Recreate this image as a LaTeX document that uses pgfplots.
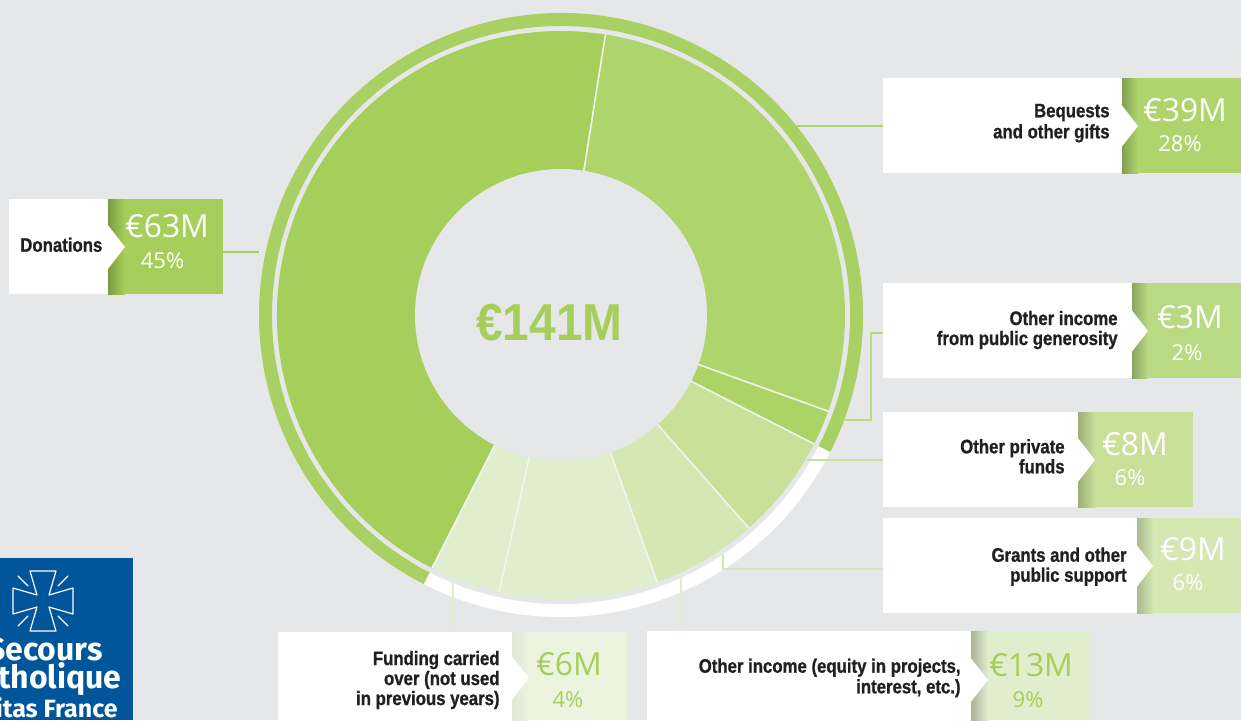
\documentclass[border=0pt]{standalone}
\usepackage{pgfplots}
\pgfplotsset{compat=1.18}
\usepackage{pgfplotstable}
\usepackage{fontspec}
\setmainfont{Liberation Sans}
\newfontfamily\labfont[FakeStretch=0.86, FakeBold=0.9]{Liberation Sans}
\newfontfamily\bigfont[FakeStretch=0.92]{Liberation Sans}
\newfontfamily\numfont{Open Sans}
\newfontfamily\logofont{Fira Sans}

\definecolor{bg}{HTML}{E6E7E8}
\definecolor{cDon}{HTML}{A5CF5A}
\definecolor{cBeq}{HTML}{AED46B}
\definecolor{cGen}{HTML}{ABD366}
\definecolor{cPriv}{HTML}{C8E098}
\definecolor{cGrant}{HTML}{D5E7B3}
\definecolor{cOther}{HTML}{E0EECD}
\definecolor{cFund}{HTML}{E0EECD}
\definecolor{ringc}{HTML}{A8D062}
\definecolor{sepc}{HTML}{F2F4EE}
\definecolor{bGen}{HTML}{B9DA82}
\definecolor{bFund}{HTML}{ECF4E0}
\definecolor{labc}{HTML}{231F20}
\definecolor{logoblue}{HTML}{00559B}

% slices, clockwise from the left end of the donations slice
\pgfplotstableread{
name amount pct fillc
Donations 63 45 cDon
Bequests 39 28 cBeq
OtherGenerosity 3 2 cGen
OtherPrivate 8 6 cPriv
Grants 9 6 cGrant
OtherIncome 13 9 cOther
Carried 6 4 cFund
}\slices

% x0 x1 x2 y0 y1 colour apex-x mid-y shadow
\newcommand{\callbox}[9]{%
  \fill[white] (axis cs:#1,#4) rectangle (axis cs:#2,#5);
  \fill[#6] (axis cs:#2,#4) rectangle (axis cs:#3,#5);
  \shade[left color=#9, right color=#6] (axis cs:#2,#4) rectangle (axis cs:#7,#5);
  \fill[white] (axis cs:#7,#8) -- ++(-8.6pt,11pt) -- ++(0,-22pt) -- cycle;
}
\newcommand{\lab}[3]{\node[anchor=base east, inner sep=0pt, text=labc,
  font=\labfont\bfseries\fontsize{9.75}{10}\selectfont] at (axis cs:#1,#2) {#3};}
\newcommand{\val}[4]{\node[anchor=base, inner sep=0pt, text=#4,
  font=\numfont\fontsize{15.9}{16}\selectfont] at (axis cs:#1,#2) {#3};}
\newcommand{\pct}[4]{\node[anchor=base, inner sep=0pt, text=#4,
  font=\numfont\fontsize{11}{11}\selectfont] at (axis cs:#1,#2) {#3};}

\begin{document}
\begin{tikzpicture}
\begin{axis}[
  scale only axis,
  width=620.5pt, height=360pt,
  xmin=0, xmax=1241, ymin=0, ymax=720,
  y dir=reverse,
  hide axis,
  clip=false,
]
\coordinate (SW) at (axis cs:0,720);
\coordinate (NE) at (axis cs:1241,0);
\fill[bg] (axis cs:0,0) rectangle (axis cs:1241,720);

% donut slices
\def\angA{243}
\def\angStart{243}
\pgfplotsforeachungrouped \i in {0,...,6}{%
  \pgfplotstablegetelem{\i}{pct}\of\slices \let\slpct\pgfplotsretval
  \pgfplotstablegetelem{\i}{fillc}\of\slices \let\slcol\pgfplotsretval
  \pgfmathsetmacro\angB{\angA-3.6*\slpct}
  \edef\tmp{\noexpand\fill[\slcol] (axis cs:561,315) -- ++(\angA:142pt)
    arc[start angle=\angA, end angle=\angB, radius=142pt] -- cycle;}
  \tmp
  \ifnum\i=2 \let\angRing\angB \fi
  \let\angA\angB
}
\def\angA{243}
\pgfplotsforeachungrouped \i in {0,...,6}{%
  \pgfplotstablegetelem{\i}{pct}\of\slices \let\slpct\pgfplotsretval
  \pgfmathsetmacro\angB{\angA-3.6*\slpct}
  \edef\tmp{\noexpand\draw[sepc, line width=0.8pt] (axis cs:561,315) -- ++(\angB:142pt);}
  \tmp
  \let\angA\angB
}
\fill[bg] (axis cs:561,315) circle[radius=73pt];

% outer ring: public generosity in green, the rest in white
\edef\tmp{\noexpand\draw[ringc, line width=6.5pt] (axis cs:561,315) ++(\angRing:147.75pt)
  arc[start angle=\angRing, end angle=\angStart, radius=147.75pt];}
\tmp
\edef\tmp{\noexpand\draw[white, line width=6.5pt] (axis cs:561,315) ++(\angStart-360:147.75pt)
  arc[start angle=\angStart-360, end angle=\angRing, radius=147.75pt];}
\tmp

% connectors
\draw[cDon, line width=0.75pt] (axis cs:223,252) -- (axis cs:259,252);
\draw[cBeq, line width=0.75pt] (axis cs:797,126) -- (axis cs:883,126);
\draw[bGen, line width=0.75pt] (axis cs:843,420) -- (axis cs:871,420) -- (axis cs:871,333) -- (axis cs:883,333);
\draw[cPriv, line width=0.75pt] (axis cs:807,460) -- (axis cs:883,460);
\draw[cGrant, line width=0.75pt] (axis cs:723,554) -- (axis cs:723,569) -- (axis cs:883,569);
\draw[cFund, line width=0.75pt] (axis cs:453,580) -- (axis cs:453,632);
\draw[cOther, line width=0.75pt] (axis cs:681,578) -- (axis cs:681,631);

% callout boxes
\callbox{9}{108}{223}{199}{294}{cDon}{125}{247}{cDon!75!black}
\callbox{883}{1122}{1241}{78}{173}{cBeq}{1138}{126}{cBeq!75!black}
\callbox{883}{1132}{1241}{283}{378}{bGen}{1148}{331}{bGen!75!black}
\callbox{883}{1078}{1193}{412}{507}{cPriv}{1095}{460}{cPriv!78!black}
\callbox{883}{1137}{1241}{518}{613}{cGrant}{1153}{566}{cGrant!80!black}
\callbox{278}{512}{627}{632}{720}{bFund}{529}{678}{bFund!95!black}
\callbox{647}{971}{1090}{631}{720}{cOther}{988}{680}{cOther!75!black}

% texts
\node[anchor=base, inner sep=0pt, text=cDon, font=\bigfont\bfseries\fontsize{26}{26}\selectfont]
  at (axis cs:549.5,340.7) {€141M};

\lab{102.7}{251.7}{Donations}
\val{167}{237.7}{€63M}{white}
\pct{162.5}{268.3}{45\%}{white}

\lab{1110}{117.3}{Bequests}
\lab{1110}{138.3}{and other gifts}
\val{1185}{121.5}{€39M}{white}
\pct{1180}{151.7}{28\%}{white}

\lab{1118}{325}{Other income}
\lab{1118}{345}{from public generosity}
\val{1190}{328.3}{€3M}{white}
\pct{1187}{360}{2\%}{white}

\lab{1065}{453.3}{Other private}
\lab{1065}{473.3}{funds}
\val{1135}{455}{€8M}{white}
\pct{1130}{485}{6\%}{white}

\lab{1127}{561.7}{Grants and other}
\lab{1127}{581.7}{public support}
\val{1193}{560}{€9M}{white}
\pct{1188}{590}{6\%}{white}

\lab{500}{665}{Funding carried}
\lab{500}{685}{over (not used}
\lab{500}{705}{in previous years)}
\val{569}{675}{€6M}{cDon}
\pct{568}{707}{4\%}{cDon}

\lab{961}{672.7}{Other income (equity in projects,}
\lab{961}{693.3}{interest, etc.)}
\val{1031}{676}{€13M}{cDon}
\pct{1028}{707}{9\%}{cDon}

% logo
\fill[logoblue] (axis cs:0,558) rectangle (axis cs:133,720);
\draw[white, line width=0.6pt, line join=round]
  (axis cs:49,595) -- (axis cs:56,571) -- (axis cs:30,571) -- (axis cs:37,595)
  -- (axis cs:13,588) -- (axis cs:13,614) -- (axis cs:37,607) -- (axis cs:30,631)
  -- (axis cs:56,631) -- (axis cs:49,607) -- (axis cs:73,614) -- (axis cs:73,588) -- cycle;
\draw[white, line width=0.6pt, line cap=round]
  (axis cs:58,586) -- (axis cs:68,576)
  (axis cs:28,586) -- (axis cs:18,576)
  (axis cs:58,616) -- (axis cs:68,626)
  (axis cs:28,616) -- (axis cs:18,626);
\node[anchor=base east, inner sep=0pt, text=white, font=\logofont\bfseries\fontsize{16}{16}\selectfont]
  at (axis cs:103,660) {Secours};
\node[anchor=base east, inner sep=0pt, text=white, font=\logofont\bfseries\fontsize{16}{16}\selectfont]
  at (axis cs:122,688) {Catholique};
\node[anchor=base east, inner sep=0pt, text=white, font=\logofont\bfseries\fontsize{12.5}{12.5}\selectfont]
  at (axis cs:118,717) {Caritas France};
\end{axis}
\pgfresetboundingbox
\path[use as bounding box] (SW) rectangle (NE);
\end{tikzpicture}
\end{document}
